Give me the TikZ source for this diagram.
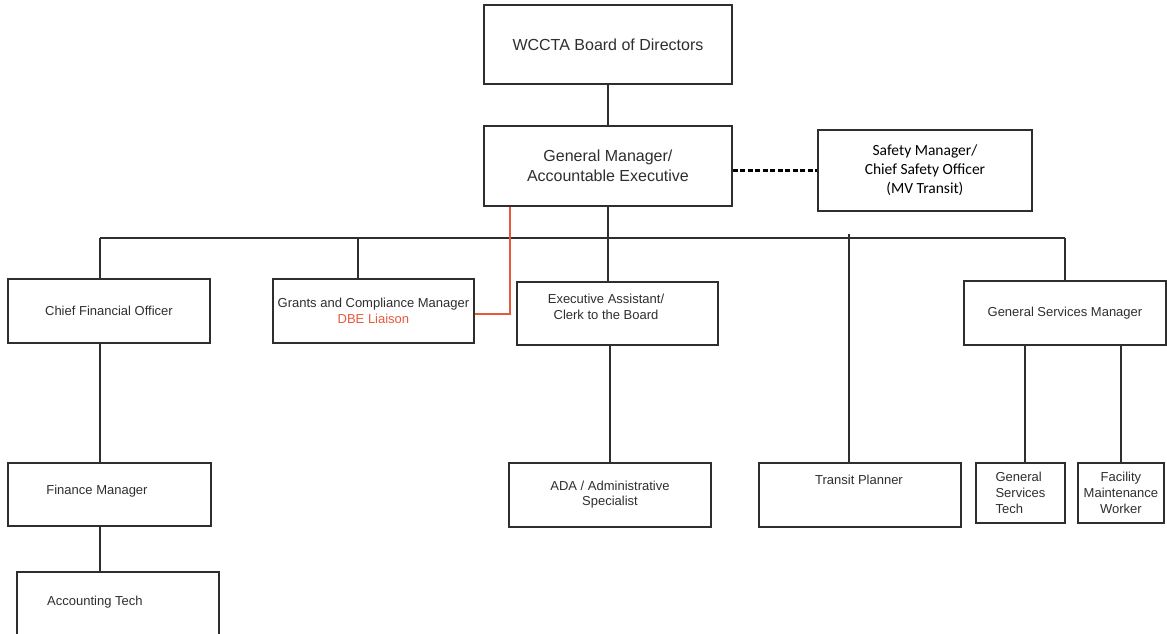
\documentclass[tikz,border=0pt]{standalone}
\usepackage{fontspec}
\setmainfont{Liberation Sans}
\newfontfamily\calibrifont{Carlito}
\definecolor{ink}{HTML}{2E2E2E}
\definecolor{liaison}{HTML}{E8593C}

\begin{document}
\begin{tikzpicture}[x=1pt,y=-1pt]
    \tikzstyle post=[draw=ink, line width=1.9pt, inner sep=0pt, anchor=north west, align=center, text=ink, font=\fontsize{13}{16}\selectfont]
    \tikzstyle caption=[inner sep=0pt, align=center, text=ink, font=\fontsize{13}{16}\selectfont]
    \tikzstyle link=[draw=ink, line width=1.7pt]
    \useasboundingbox (0,0) rectangle (1167,634);
    % board and general manager
    \node[post, minimum width=248, minimum height=79, font=\fontsize{16}{20}\selectfont] (board) at (483,4) {WCCTA Board of Directors};
    \node[post, minimum width=248, minimum height=80, font=\fontsize{16}{20}\selectfont] (gm) at (483,125) {General Manager/\\Accountable Executive};
    \node[post, minimum width=214, minimum height=81, font=\calibrifont\fontsize{15.5}{19}\selectfont, text=black] (safety) at (817,129) {Safety Manager/\\Chief Safety Officer\\(MV Transit)};
    % second row
    \node[post, minimum width=202, minimum height=64] (cfo) at (7,278) {Chief Financial Officer};
    \node[post, minimum width=201, minimum height=64, font=\fontsize{13}{15.5}\selectfont] (grants) at (272,278) {Grants and Compliance Manager\\{\color{liaison}DBE Liaison}};
    \node[post, minimum width=201, minimum height=63] (exec) at (516,281) {};
    \node[caption] (exec-text) at (606,307) {Executive Assistant/\\Clerk to the Board};
    \node[post, minimum width=202, minimum height=64] (gsm) at (963,280) {General Services Manager};
    % third row
    \node[post, minimum width=203, minimum height=63] (fin) at (7,462) {};
    \node[caption] (fin-text) at (97,491) {Finance Manager};
    \node[post, minimum width=202, minimum height=64, font=\fontsize{13}{15}\selectfont] (ada) at (508,462) {ADA / Administrative\\Specialist};
    \node[post, minimum width=202, minimum height=64] (tp) at (758,462) {};
    \node[caption] (tp-text) at (859,480) {Transit Planner};
    \node[post, minimum width=89, minimum height=60, align=left] (gst) at (975,462) {General\\Services\\Tech};
    \node[post, minimum width=86, minimum height=60] (fmw) at (1077,462) {Facility\\Maintenance\\Worker};
    % bottom row
    \node[post, minimum width=202, minimum height=70] (acct) at (16,571) {};
    \node[caption, anchor=west] (acct-text) at (47,602) {Accounting Tech};
    % connectors
    \coordinate (tap-cfo) at (100,238);
    \coordinate (tap-grants) at (358,238);
    \coordinate (tap-tp) at (849,234);
    \coordinate (tap-gsm) at (1065,238);
    \coordinate (dbe-turn) at (510,314);
    \draw[link] (board) -- (gm);
    \draw[link] (gm) -- (gm |- exec.north);
    \draw[link] (tap-cfo) -- (tap-gsm);
    \draw[link] (tap-cfo) -- (tap-cfo |- cfo.north);
    \draw[link] (tap-grants) -- (tap-grants |- grants.north);
    \draw[link] (tap-gsm) -- (tap-gsm |- gsm.north);
    \draw[link, line width=2.2pt] (tap-tp) -- (tap-tp |- tp.north);
    \draw[link] (tap-cfo |- cfo.south) -- (tap-cfo |- fin.north);
    \draw[link] (tap-cfo |- fin.south) -- (tap-cfo |- acct.north);
    \draw[link] (ada.north) -- (ada.north |- exec.south);
    \draw[link] ([xshift=4.5pt]gst.north) -- ([xshift=4.5pt]gst.north |- gsm.south);
    \draw[link] (fmw.north) -- (fmw.north |- gsm.south);
    \draw[link, draw=liaison] (gm.south -| dbe-turn) |- (grants.east |- dbe-turn);
    \draw[link, draw=black, line width=2.8pt, dash pattern=on 5pt off 2.5pt] (safety.west -| gm.east) -- (safety.west);
\end{tikzpicture}
\end{document}
